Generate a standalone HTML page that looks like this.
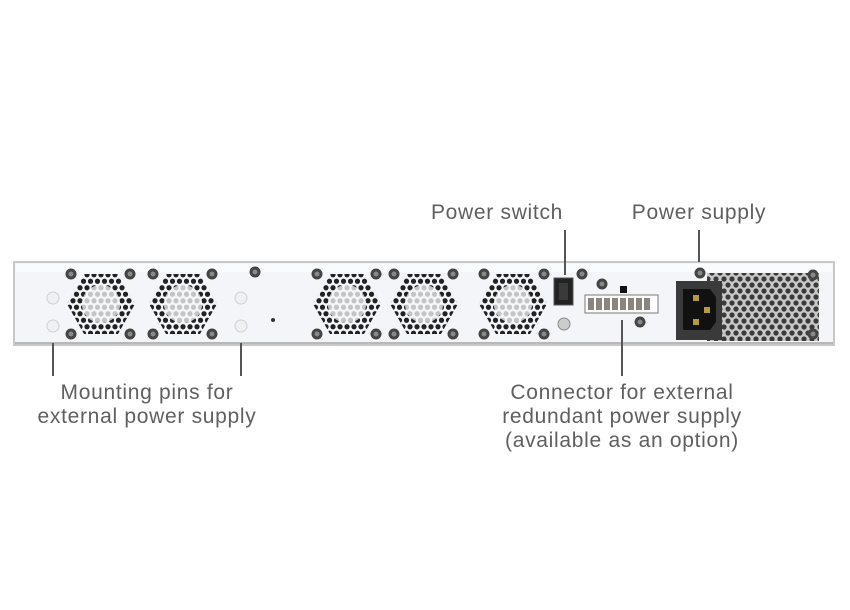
<!DOCTYPE html>
<html><head><meta charset="utf-8"><style>
html,body{margin:0;padding:0;background:#fff;}
svg{display:block}
text{font-family:"Liberation Sans",sans-serif;font-size:21px;letter-spacing:0.7px;fill:#5f5f5f;}
</style></head><body>
<svg width="850" height="610" viewBox="0 0 850 610" xmlns="http://www.w3.org/2000/svg">
<defs>
<pattern id="dk" width="7" height="13" patternUnits="userSpaceOnUse">
<circle cx="3.5" cy="3.25" r="2.6" fill="#222"/><circle cx="0" cy="9.75" r="2.6" fill="#222"/><circle cx="7" cy="9.75" r="2.6" fill="#222"/>
</pattern>
<pattern id="lt" width="7" height="13" patternUnits="userSpaceOnUse">
<circle cx="3.5" cy="3.25" r="2.6" fill="#c4c4c4"/><circle cx="0" cy="9.75" r="2.6" fill="#c4c4c4"/><circle cx="7" cy="9.75" r="2.6" fill="#c4c4c4"/>
</pattern>
<pattern id="ps" width="8" height="12" patternUnits="userSpaceOnUse">
<rect width="8" height="12" fill="#c8c8c8"/>
<circle cx="4" cy="3" r="2.6" fill="#3a3a3a"/><circle cx="0" cy="9" r="2.6" fill="#3a3a3a"/><circle cx="8" cy="9" r="2.6" fill="#3a3a3a"/>
</pattern>
<g id="fan">
<polygon points="-34,0 -17,-30 17,-30 34,0 17,30 -17,30" fill="url(#dk)"/>
<circle r="19" fill="#f4f6f8"/>
<circle r="19" fill="url(#lt)"/>
</g>
<g id="sc"><circle r="5.5" fill="#444"/><circle r="2.5" fill="#888"/></g>
</defs>

<rect x="14" y="262" width="820" height="83" fill="#f3f5f8" stroke="#c8c8c8" stroke-width="2"/>
<rect x="16" y="264" width="816" height="8" fill="#fafbfc"/>
<line x1="15" y1="343" x2="833" y2="343" stroke="#b8b8b8" stroke-width="2"/>

<use href="#fan" x="101" y="304"/>
<use href="#fan" x="183" y="304"/>
<use href="#fan" x="347" y="304"/>
<use href="#fan" x="424" y="304"/>
<use href="#fan" x="513" y="304"/>

<rect x="707" y="273" width="112" height="68" fill="url(#ps)"/>

<g>
<use href="#sc" x="71" y="274"/><use href="#sc" x="130" y="274"/><use href="#sc" x="71" y="334"/><use href="#sc" x="130" y="334"/>
<use href="#sc" x="153" y="274"/><use href="#sc" x="212" y="274"/><use href="#sc" x="153" y="334"/><use href="#sc" x="212" y="334"/>
<use href="#sc" x="255" y="272"/>
<use href="#sc" x="317" y="274"/><use href="#sc" x="376" y="274"/><use href="#sc" x="317" y="334"/><use href="#sc" x="376" y="334"/>
<use href="#sc" x="394" y="274"/><use href="#sc" x="453" y="274"/><use href="#sc" x="394" y="334"/><use href="#sc" x="453" y="334"/>
<use href="#sc" x="484" y="274"/><use href="#sc" x="544" y="274"/><use href="#sc" x="484" y="334"/><use href="#sc" x="544" y="334"/>
<use href="#sc" x="582" y="274"/><use href="#sc" x="602" y="284"/><use href="#sc" x="640" y="322"/>
<use href="#sc" x="700" y="273"/><use href="#sc" x="813" y="275"/><use href="#sc" x="813" y="334"/>
</g>
<g fill="#eef0f2" stroke="#d0d0d0">
<circle cx="53" cy="298" r="6"/><circle cx="53" cy="326" r="6"/>
<circle cx="241" cy="298" r="6"/><circle cx="241" cy="326" r="6"/>
</g>
<circle cx="273" cy="320" r="2" fill="#333"/>

<rect x="554" y="278" width="19" height="27" fill="#222" stroke="#555"/>
<rect x="559" y="283" width="9" height="17" fill="#3a3a3a"/>
<circle cx="564" cy="324" r="6" fill="#ccc" stroke="#888"/>

<rect x="620" y="286" width="7" height="7" fill="#111"/>
<rect x="585" y="295" width="73" height="18" fill="#fff" stroke="#777"/>
<g fill="#8a857e">
<rect x="588" y="298" width="6" height="12"/><rect x="596" y="298" width="6" height="12"/><rect x="604" y="298" width="6" height="12"/><rect x="612" y="298" width="6" height="12"/><rect x="620" y="298" width="6" height="12"/><rect x="628" y="298" width="6" height="12"/><rect x="636" y="298" width="6" height="12"/><rect x="644" y="298" width="6" height="12"/>
</g>

<rect x="676" y="281" width="46" height="59" fill="#3a3a3a"/>
<path d="M683,289 h27 l6,8 v25 l-6,8 h-27 z" fill="#111"/>
<rect x="693" y="295" width="6" height="6" fill="#b89a3a"/>
<rect x="704" y="307" width="6" height="6" fill="#b89a3a"/>
<rect x="693" y="319" width="6" height="6" fill="#b89a3a"/>

<g stroke="#555" stroke-width="2">
<line x1="565" y1="230" x2="565" y2="275"/>
<line x1="699" y1="230" x2="699" y2="262"/>
<line x1="53" y1="343" x2="53" y2="376"/>
<line x1="241" y1="343" x2="241" y2="376"/>
<line x1="622" y1="320" x2="622" y2="376"/>
</g>

<text x="497" y="219" text-anchor="middle">Power switch</text>
<text x="699" y="219" text-anchor="middle">Power supply</text>
<text x="147" y="399" text-anchor="middle">Mounting pins for</text>
<text x="147" y="423" text-anchor="middle">external power supply</text>
<text x="622" y="399" text-anchor="middle">Connector for external</text>
<text x="622" y="423" text-anchor="middle">redundant power supply</text>
<text x="622" y="447" text-anchor="middle">(available as an option)</text>
</svg>
</body></html>
